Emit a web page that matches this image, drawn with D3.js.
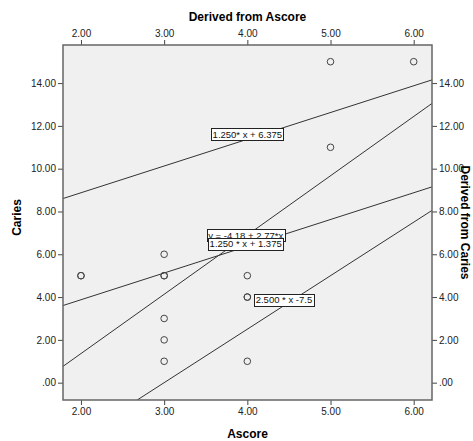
<!DOCTYPE html>
<html><head><meta charset="utf-8">
<script src="https://cdn.jsdelivr.net/npm/d3@7"></script>
<style>body{margin:0;background:#fff;} svg{display:block;font-family:Arial,"Liberation Sans",sans-serif;}</style>
</head><body><svg id="c" width="473" height="441"></svg>
<script>
// data
const ascore = [2, 2, 3, 3, 3, 3, 3, 3, 4, 4, 4, 4, 5, 5, 6];
const caries = [5, 5, 6, 5, 5, 3, 2, 1, 5, 4, 4, 1, 15, 11, 15];
const xTicks = [2, 3, 4, 5, 6];
const yTicks = [0, 2, 4, 6, 8, 10, 12, 14];
const fitSlopes = [1.25, 2.77, 1.25, 2.5];
const fitIntercepts = [6.375, -4.18, 1.375, -7.5];
const fitLabels = ["1.250* x + 6.375", "y = -4.18 + 2.77*x", "1.250 * x + 1.375", "2.500 * x  -7.5"];
const labelAtX = [4.0, 3.98, 3.98, 4.44];
const labelShift = [-5, -1, -3, -6];

const svg = d3.select("#c");
const L = 63, R = 432, T = 45, B = 400;
const x = d3.scaleLinear().domain([1.784, 6.22]).range([L, R]);
const y = d3.scaleLinear().domain([-0.81, 15.78]).range([B, T]);

svg.append("rect").attr("x", L).attr("y", T).attr("width", R - L).attr("height", B - T)
  .attr("fill", "#f0f0f0");

svg.append("defs").append("clipPath").attr("id", "clip")
  .append("rect").attr("x", L).attr("y", T).attr("width", R - L).attr("height", B - T);

const fmt = d => d === 0 ? ".00" : d3.format(".2f")(d);
const tickStyle = g => {
  g.select(".domain").remove();
  g.selectAll(".tick line").attr("stroke", "#444");
  g.selectAll(".tick text").attr("fill", "#222").style("font-size", "10px").style("font-family", "Arial, 'Liberation Sans', sans-serif");
};
svg.append("g").attr("transform", `translate(0,${B})`).call(d3.axisBottom(x).tickValues(xTicks).tickFormat(fmt).tickSize(5).tickPadding(3)).call(tickStyle);
svg.append("g").attr("transform", `translate(0,${T})`).call(d3.axisTop(x).tickValues(xTicks).tickFormat(fmt).tickSize(5).tickPadding(3)).call(tickStyle);
svg.append("g").attr("transform", `translate(${L},0)`).call(d3.axisLeft(y).tickValues(yTicks).tickFormat(fmt).tickSize(5).tickPadding(2)).call(tickStyle);
svg.append("g").attr("transform", `translate(${R},0)`).call(d3.axisRight(y).tickValues(yTicks).tickFormat(fmt).tickSize(5).tickPadding(2)).call(tickStyle);

const plot = svg.append("g").attr("clip-path", "url(#clip)");
const xd = x.domain();
fitSlopes.forEach((m, i) => {
  const b = fitIntercepts[i];
  plot.append("line")
    .attr("x1", x(xd[0])).attr("y1", y(m * xd[0] + b))
    .attr("x2", x(xd[1])).attr("y2", y(m * xd[1] + b))
    .attr("stroke", "#333").attr("stroke-width", 1);
});

plot.selectAll("circle").data(ascore).join("circle")
  .attr("cx", (d) => x(d)).attr("cy", (d, i) => y(caries[i])).attr("r", 3.3)
  .attr("fill", "none").attr("stroke", "#444").attr("stroke-width", 1);

svg.append("rect").attr("x", L).attr("y", T).attr("width", R - L).attr("height", B - T)
  .attr("fill", "none").attr("stroke", "#666").attr("stroke-width", 1.5);

// fit labels
fitLabels.forEach((t, i) => {
  const cx = x(labelAtX[i]);
  const cy = y(fitSlopes[i] * labelAtX[i] + fitIntercepts[i]) + labelShift[i];
  const g = svg.append("g");
  const box = g.append("rect").attr("fill", "#fff").attr("stroke", "#222").attr("stroke-width", 1);
  const tx = g.append("text").attr("x", cx).attr("y", cy).attr("text-anchor", "middle")
    .attr("dominant-baseline", "central").style("font-size", "9.5px").attr("fill", "#111").text(t);
  const w = tx.node().getComputedTextLength();
  box.attr("x", Math.round(cx - w / 2 - 1.5) + 0.5).attr("y", Math.round(cy - 6) + 0.5)
    .attr("width", Math.round(w + 3)).attr("height", 12);
});

// axis titles
svg.append("text").attr("x", (L + R) / 2).attr("y", 21).attr("text-anchor", "middle")
  .style("font-size", "12px").style("font-weight", "bold").text("Derived from Ascore");
svg.append("text").attr("x", (L + R) / 2).attr("y", 438).attr("text-anchor", "middle")
  .style("font-size", "12px").style("font-weight", "bold").text("Ascore");
svg.append("text").attr("transform", `translate(21,${(T + B) / 2 - 5}) rotate(-90)`).attr("text-anchor", "middle")
  .style("font-size", "12px").style("font-weight", "bold").text("Caries");
svg.append("text").attr("transform", `translate(461,${(T + B) / 2}) rotate(90)`).attr("text-anchor", "middle")
  .style("font-size", "12px").style("font-weight", "bold").text("Derived from Caries");
</script></body></html>
